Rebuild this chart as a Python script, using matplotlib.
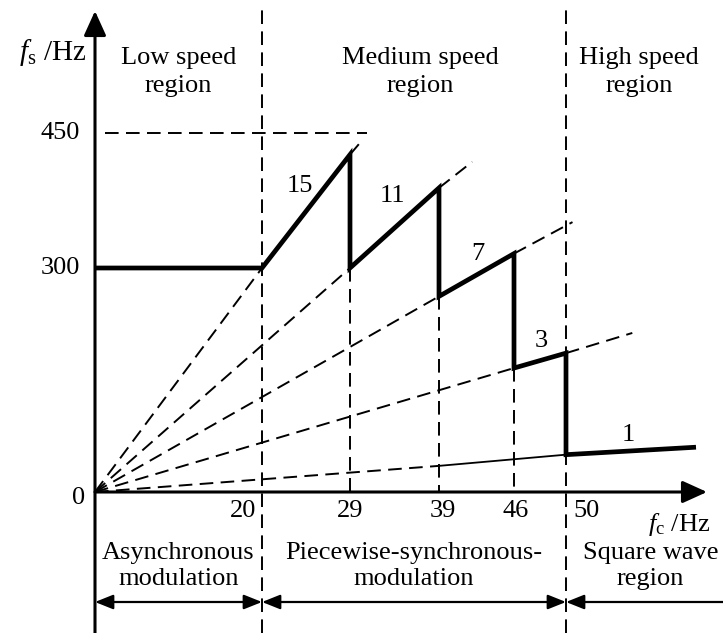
import matplotlib
matplotlib.use('Agg')
import matplotlib.pyplot as plt
import numpy as np

plt.rcParams['font.family'] = ['Liberation Serif', 'DejaVu Serif']
plt.rcParams['mathtext.fontset'] = 'custom'
plt.rcParams['mathtext.rm'] = 'Liberation Serif'
plt.rcParams['mathtext.it'] = 'Liberation Serif:italic'

# axis ticks of the sketch
fc_ticks = [20, 29, 39, 46, 50]
fs_ticks = [0, 300, 450]

# asynchronous part: constant switching frequency
async_fc = [0, 20]
async_fs = [300, 300]

# piecewise synchronous segments (carrier ratio N)
ratios = ['15', '11', '7', '3', '1']
seg_start_fc = [20, 29, 39, 46, 50]
seg_start_fs = [300, 300, 262, 166, 50]
seg_end_fc = [29, 39, 46, 50, 60]
seg_end_fs = [426, 389, 316, 186, 60]

# dashed extensions of the rays past each segment
ext_fc = [30.2, 42.1, 50.5, 55.1]
ext_fs = [440, 418, 351, 213]

# N = 1 ray below the square wave region
ray1_fc = [0, 39, 50]
ray1_fs = [0, 35, 50]

fs_max_line = 450

# the sketch is not drawn to scale: tick layout (pixels from origin)
x_layout = [0, 167, 255, 344, 419, 471]
y_layout = [0, 224, 359]


def piecewise(src, dst):
    src = np.asarray(src, float)
    dst = np.asarray(dst, float)
    k0 = (dst[1] - dst[0]) / (src[1] - src[0])
    k1 = (dst[-1] - dst[-2]) / (src[-1] - src[-2])

    def f(v):
        v = np.asarray(v, float)
        out = np.interp(v, src, dst)
        out = np.where(v < src[0], dst[0] + (v - src[0]) * k0, out)
        out = np.where(v > src[-1], dst[-1] + (v - src[-1]) * k1, out)
        return out
    return f


fc_knots = [0] + fc_ticks
x_fwd, x_inv = piecewise(fc_knots, x_layout), piecewise(x_layout, fc_knots)
y_fwd, y_inv = piecewise(fs_ticks, y_layout), piecewise(y_layout, fs_ticks)

fig = plt.figure(figsize=(7.23, 6.33), dpi=100)
ax = fig.add_axes([0, 0, 1, 1])
ax.set_xscale('function', functions=(x_fwd, x_inv))
ax.set_yscale('function', functions=(y_fwd, y_inv))
ax.set_xlim(float(x_inv(-95)), float(x_inv(628)))
ax.set_ylim(float(y_inv(-141)), float(y_inv(492)))
ax.axis('off')

FS = 19
bold = dict(color='k', lw=3.4, solid_capstyle='butt', solid_joinstyle='miter')
dash = dict(color='k', lw=1.4, linestyle=(0, (7, 3.8)))

y_top = float(y_inv(482))
y_bot = float(y_inv(-141))
x_right = float(x_inv(628))

# axes with arrows
axis_arrow = dict(arrowstyle='-|>,head_length=0.75,head_width=0.34',
                  lw=2.2, color='k', shrinkA=0, shrinkB=0, mutation_scale=20)
ax.annotate('', xy=(0, float(y_inv(481))), xytext=(0, y_bot), arrowprops=axis_arrow)
ax.annotate('', xy=(float(x_inv(612)), 0), xytext=(0, 0), arrowprops=axis_arrow)

# region boundaries
for fc in (fc_ticks[0], fc_ticks[-1]):
    ax.plot([fc, fc], [y_bot, y_top], **dash)

# 450 Hz limit
ax.plot([float(x_inv(10)), float(x_inv(272))], [fs_max_line, fs_max_line], **dash)

# dashed rays from origin and their extensions, drop lines
for i in range(4):
    ax.plot([0, seg_start_fc[i]], [0, seg_start_fs[i]], **dash)
    ax.plot([seg_end_fc[i], ext_fc[i]], [seg_end_fs[i], ext_fs[i]], **dash)
for i in range(1, 4):
    ax.plot([seg_start_fc[i], seg_start_fc[i]], [seg_start_fs[i], 0], **dash)

ax.plot(ray1_fc[:2], ray1_fs[:2], **dash)
ax.plot(ray1_fc[1:], ray1_fs[1:], color='k', lw=1.3)

# switching frequency curve
path_fc = list(async_fc)
path_fs = list(async_fs)
for i in range(len(ratios)):
    path_fc += [seg_start_fc[i], seg_end_fc[i]]
    path_fs += [seg_start_fs[i], seg_end_fs[i]]
ax.plot(path_fc, path_fs, **bold)

# ratio labels
label_fc = [23.9, 33.8, 42.6, 48.1, 54.8]
label_fs = [391, 380, 316, 202, 76]
for t, x, y in zip(ratios, label_fc, label_fs):
    ax.text(x, y, t, fontsize=FS, ha='center', va='center')

# tick labels
for v in fs_ticks[1:]:
    ax.annotate(str(v), xy=(0, v), xytext=(-11, 0), textcoords='offset points',
                ha='right', va='center', fontsize=FS)
ax.annotate('0', xy=(0, 0), xytext=(-7, -4), textcoords='offset points',
            ha='right', va='center', fontsize=FS)
x_tick_ha = ['right', 'center', 'center', 'center', 'left']
x_tick_dx = [-4, 0, 3, 1, 5]
for v, ha, dx in zip(fc_ticks, x_tick_ha, x_tick_dx):
    ax.annotate(str(v), xy=(v, 0), xytext=(dx, -13.5), textcoords='offset points',
                ha=ha, va='center', fontsize=FS)

# axis titles
ax.annotate(r'$f_{\mathrm{s}}$ /Hz', xy=(0, float(y_inv(440))), xytext=(-6, 0),
            textcoords='offset points', ha='right', va='center', fontsize=21)
ax.text(float(x_inv(615)), float(y_inv(-32)), r'$f_{\mathrm{c}}$ /Hz',
        ha='right', va='center', fontsize=FS)

# region labels
top_y = float(y_inv(420))
for x, t in zip([10, 36.9, 55.6], ['Low speed\nregion', 'Medium speed\nregion', 'High speed\nregion']):
    ax.text(x, top_y, t, ha='center', va='center', fontsize=FS, linespacing=1.4)
bot_y = float(y_inv(-74))
for x, t in zip([10, 36.2, 56.5],
                ['Asynchronous\nmodulation', 'Piecewise-synchronous-\nmodulation', 'Square wave\nregion']):
    ax.text(x, bot_y, t, ha='center', va='center', fontsize=FS, linespacing=1.2)

# double arrows for the modulation modes
arr_y = float(y_inv(-110))
both = dict(arrowstyle='<|-|>,head_length=0.55,head_width=0.22', lw=1.6, color='k',
            shrinkA=0, shrinkB=0, mutation_scale=20)
ax.annotate('', xy=(fc_ticks[0], arr_y), xytext=(0, arr_y), arrowprops=both)
ax.annotate('', xy=(fc_ticks[-1], arr_y), xytext=(fc_ticks[0], arr_y), arrowprops=both)
ax.annotate('', xy=(fc_ticks[-1], arr_y), xytext=(x_right, arr_y),
            arrowprops=dict(both, arrowstyle='-|>,head_length=0.55,head_width=0.22'))

fig.savefig('out.png', dpi=100)
